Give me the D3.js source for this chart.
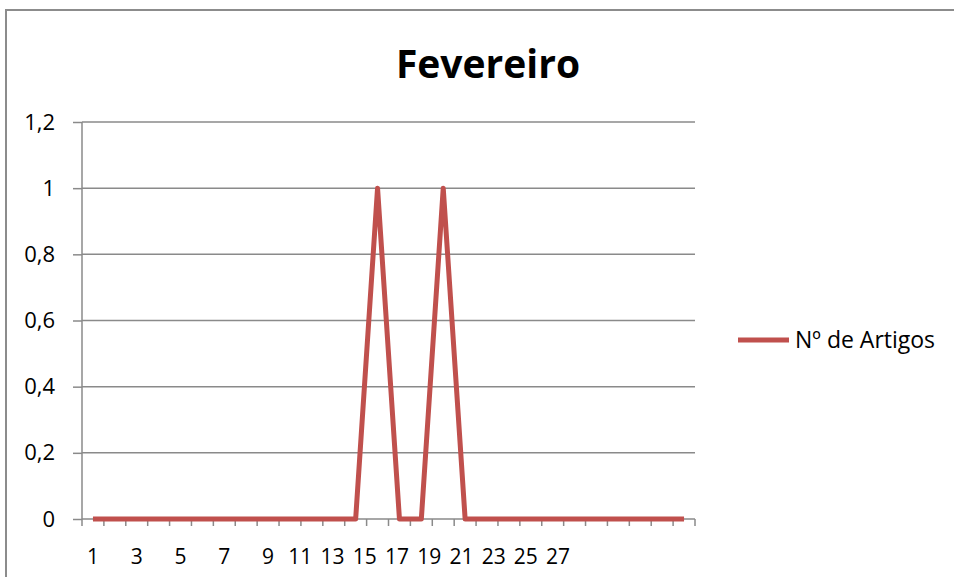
<!DOCTYPE html>
<html>
<head>
<meta charset="utf-8">
<script src="https://cdn.jsdelivr.net/npm/d3@7"></script>
<style>
  body { margin: 0; background: #fff; }
  text { font-family: "Open Sans", Lato, sans-serif; fill: #000; }
</style>
</head>
<body>
<div id="chart"></div>
<script>
// days of February and number of articles per day
var days = d3.range(1, 29)
var artigos = [0,0,0,0,0,0,0,0,0,0,0,0,0,1,0,0,1,0,0,0,0,0,0,0,0,0,0,0]
var yTicks = [0, 0.2, 0.4, 0.6, 0.8, 1, 1.2]
var xLabels = [1,3,5,7,9,11,13,15,17,19,21,23,25,27]

var width = 954, height = 577
var mLeft = 82, mRight = 695, mTop = 122, mBottom = 519

var svg = d3.select("#chart").append("svg")
            .attr("width", width)
            .attr("height", height)

// chart frame
svg.append("rect")
   .attr("x", 6).attr("y", 10)
   .attr("width", 960).attr("height", 600)
   .attr("fill", "#fff")
   .attr("stroke", "#8c8c8c")
   .attr("stroke-width", 2)

var x = d3.scaleBand().domain(days).range([mLeft, mRight])
var y = d3.scaleLinear().domain([0, 1.2]).range([mBottom, mTop])

// gridlines
svg.selectAll(".grid")
   .data(yTicks.filter(function(d) { return d > 0 }))
   .enter().append("line")
   .attr("x1", mLeft).attr("x2", mRight)
   .attr("y1", function(d) { return y(d) })
   .attr("y2", function(d) { return y(d) })
   .attr("stroke", "#8a8a8a")
   .attr("stroke-width", 1.5)

// y axis
var yAxis = svg.append("g")
   .attr("transform", "translate(" + mLeft + ",0)")
   .call(d3.axisLeft(y).tickValues(yTicks).tickSize(9).tickPadding(18)
           .tickFormat(function(d) { return String(d).replace(".", ",") }))
yAxis.selectAll("line, path").attr("stroke", "#8a8a8a").attr("stroke-width", 1.5)
yAxis.selectAll("text").style("font-size", "22px").attr("font-family", null)
yAxis.select(".domain").attr("d", "M0," + mTop + "V" + mBottom)

// x axis (ticks on band edges)
var xAxis = svg.append("g")
   .attr("transform", "translate(0," + mBottom + ")")
xAxis.append("line")
   .attr("x1", mLeft).attr("x2", mRight)
   .attr("stroke", "#8a8a8a").attr("stroke-width", 1.5)
xAxis.selectAll(".tk")
   .data(days.concat([29]))
   .enter().append("line")
   .attr("x1", function(d) { return d == 29 ? mRight : x(d) })
   .attr("x2", function(d) { return d == 29 ? mRight : x(d) })
   .attr("y1", 0).attr("y2", 7)
   .attr("stroke", "#8a8a8a").attr("stroke-width", 1.5)

// labels squeezed after 9, like the original
var c = function(d) { return x(d) + x.bandwidth() / 2 }
var labelX = d3.scaleLinear().domain([1, 9, 27]).range([c(1), c(9), c(9) + 290])
xAxis.selectAll(".lbl")
   .data(xLabels)
   .enter().append("text")
   .attr("x", function(d) { return labelX(d) })
   .attr("y", 45)
   .attr("text-anchor", "middle")
   .style("font-size", "21px")
   .text(function(d) { return d })

// the series line
var line = d3.line()
   .x(function(d, i) { return c(days[i]) })
   .y(function(d) { return y(d) })

svg.append("path")
   .datum(artigos)
   .attr("d", line)
   .attr("fill", "none")
   .attr("stroke", "#c0504d")
   .attr("stroke-width", 5)
   .attr("stroke-linejoin", "round")

// title
svg.append("text")
   .attr("x", 488).attr("y", 78)
   .attr("text-anchor", "middle")
   .style("font-size", "39px")
   .style("font-weight", "bold")
   .text("Fevereiro")

// legend
svg.append("line")
   .attr("x1", 738).attr("x2", 789)
   .attr("y1", 340).attr("y2", 340)
   .attr("stroke", "#c0504d").attr("stroke-width", 5)
svg.append("text")
   .attr("x", 795).attr("y", 348)
   .style("font-size", "23px")
   .text("Nº de Artigos")
</script>
</body>
</html>
